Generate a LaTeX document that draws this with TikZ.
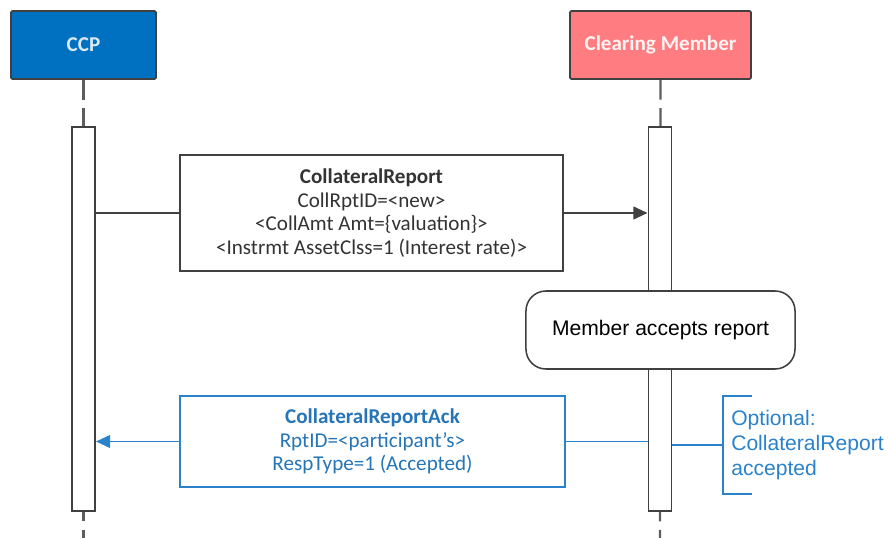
\documentclass[tikz,border=0pt]{standalone}
\usepackage{fontspec}
\setmainfont{Carlito}
\newfontfamily\arialfont{Liberation Sans}
\usetikzlibrary{arrows.meta,positioning}
\definecolor{ccpblue}{RGB}{0,112,192}
\definecolor{cmpink}{RGB}{255,124,128}
\definecolor{ackblue}{RGB}{42,130,202}
\definecolor{frame}{RGB}{64,64,64}
\tikzset{
  actor/.style ={draw=frame,line width=1.3pt,rounded corners=1pt,minimum height=1.7cm,
                 font=\fontsize{15}{18}\selectfont\bfseries},
  bar/.style   ={draw=frame,line width=1.4pt,fill=white,minimum width=0.575cm,minimum height=9.6cm},
  life/.style  ={draw=frame!85,line width=1.5pt,dash pattern=on 14pt off 6pt},
  msgbox/.style={draw=frame,line width=1.2pt,fill=white,align=center,text=black!80,
                 font=\fontsize{15}{16.7}\selectfont},
  ackbox/.style={draw=ackblue,line width=1.2pt,fill=white,align=center,text=ackblue!90!black,
                 font=\fontsize{15}{16.9}\selectfont},
  state/.style ={draw=frame,line width=1.1pt,fill=white,rounded corners=0.5cm,
                 minimum width=6.725cm,minimum height=1.95cm,font=\arialfont\fontsize{15}{18}\selectfont},
  note/.style  ={align=left,text=ackblue,inner xsep=0.2cm,inner ysep=0pt,minimum height=2.45cm,
                 font=\arialfont\fontsize{15}{17.8}\selectfont},
  msg/.style   ={frame,line width=1.4pt},
  ack/.style   ={ackblue,line width=1.4pt},
  tip/.style   ={-{Triangle[length=10pt,width=9pt]}},
}

\begin{document}
\begin{tikzpicture}[x=0.025cm,y=-0.025cm]
  \useasboundingbox (0,0) rectangle (888,538);
  % lifelines
  \node[actor,fill=ccpblue,text=white!85!ccpblue,minimum width=3.625cm] (ccp) at (83.5,45){CCP};
  \node[actor,fill=cmpink,text=white!90!cmpink,minimum width=4.525cm] (cm) at (660.5,45){Clearing Member};
  \coordinate (ccpend) at (83.5,545);
  \coordinate (cmend) at (660,545);
  \draw[life] (ccp.south) -- (ccpend);
  \draw[life] (cm.south) -- (cmend);
  \node[bar] (ccpbar) at (83.5,319){};
  \node[bar] (cmbar) at (660,319){};

  % report
  \node[msgbox,minimum width=9.575cm,minimum height=2.9cm] (rpt) at (371.5,213)
    {\textbf{CollateralReport}\\CollRptID=<new>\\<CollAmt Amt=\{valuation\}>\\<Instrmt AssetClss=1 (Interest rate)>};
  \draw[msg] (ccpbar.east |- rpt.west) -- (rpt.west);
  \draw[msg,tip] (rpt.east) -- (cmbar.west |- rpt.east);

  \node[state] (accept) at (660.5,330){Member accepts report};

  % acknowledgement
  \node[ackbox,minimum width=9.625cm,minimum height=2.275cm] (ackmsg) at (372.5,441.5)
    {\textbf{CollateralReportAck}\\RptID=<participant’s>\\RespType=1 (Accepted)};
  \draw[ack] (cmbar.west |- ackmsg.east) -- (ackmsg.east);
  \draw[ack,tip] (ackmsg.west) -- (ccpbar.east |- ackmsg.west);

  \node[note,anchor=west] (opt) at (723,445){Optional:\\CollateralReport\\accepted};
  \draw[ack] (cmbar.east |- opt.west) -- (opt.west);
  \draw[ack] (opt.north west) ++(29,0) -- (opt.north west) -- (opt.south west) -- ++(29,0);
\end{tikzpicture}
\end{document}
